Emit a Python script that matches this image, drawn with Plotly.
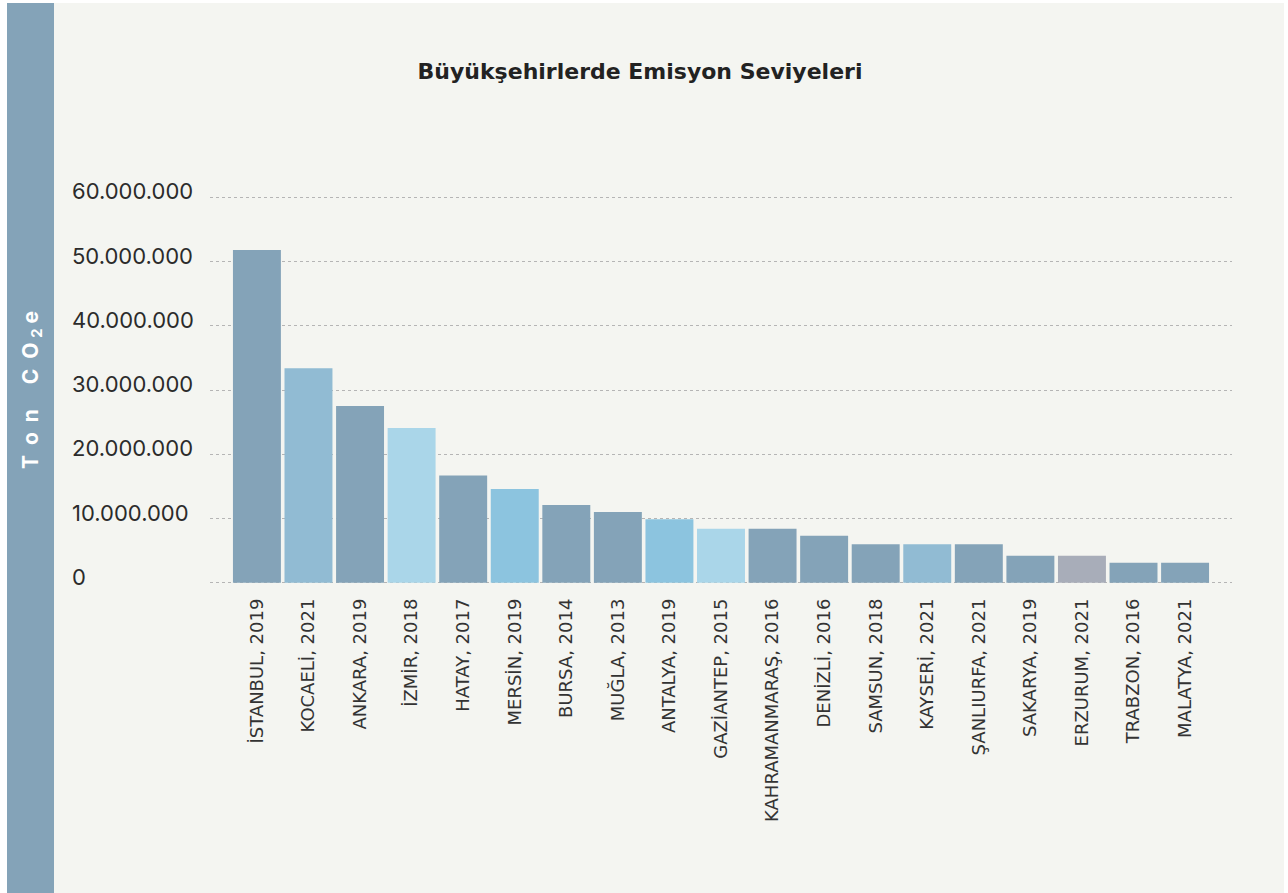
import plotly.graph_objects as go

# ---- data ----
cities = ["İSTANBUL, 2019", "KOCAELİ, 2021", "ANKARA, 2019", "İZMİR, 2018", "HATAY, 2017",
          "MERSİN, 2019", "BURSA, 2014", "MUĞLA, 2013", "ANTALYA, 2019", "GAZİANTEP, 2015",
          "KAHRAMANMARAŞ, 2016", "DENİZLİ, 2016", "SAMSUN, 2018", "KAYSERİ, 2021",
          "ŞANLIURFA, 2021", "SAKARYA, 2019", "ERZURUM, 2021", "TRABZON, 2016", "MALATYA, 2021"]
emissions = [51800000, 33400000, 27500000, 24100000, 16700000,
             14600000, 12100000, 11000000, 9900000, 8400000,
             8400000, 7300000, 6000000, 6000000,
             6000000, 4200000, 4200000, 3100000, 3100000]
tick_values = [0, 10000000, 20000000, 30000000, 40000000, 50000000, 60000000]
tick_labels = ["0", "10.000.000", "20.000.000", "30.000.000", "40.000.000", "50.000.000", "60.000.000"]

# ---- style ----
STEEL = "#84A3B8"
MID = "#91BBD3"
LIGHT = "#AAD6E9"
SKY = "#8CC4DF"
GREY = "#A8ADB9"
bar_colors = [STEEL, MID, STEEL, LIGHT, STEEL, SKY, STEEL, STEEL, SKY, LIGHT,
              STEEL, STEEL, STEEL, MID, STEEL, STEEL, GREY, STEEL, STEEL]

W, H = 1288, 893
L, R, T, B = 210, 56, 191, 309
PW, PH = W - L - R, H - T - B


def px_x(px):
    return (px - L) / PW


def px_y(py):
    return (H - B - py) / PH


fig = go.Figure(go.Bar(
    x=list(range(len(cities))),
    y=emissions,
    marker=dict(color=bar_colors, line=dict(width=0)),
    width=0.93,
    hoverinfo="skip",
))

shapes = [
    dict(type="rect", xref="paper", yref="paper", layer="below",
         x0=px_x(7), x1=px_x(1284), y0=px_y(893), y1=px_y(3),
         fillcolor="#F4F5F1", line=dict(width=0)),
    dict(type="rect", xref="paper", yref="paper", layer="below",
         x0=px_x(7), x1=px_x(54), y0=px_y(893), y1=px_y(3),
         fillcolor=STEEL, line=dict(width=0)),
]

annotations = [
    dict(xref="paper", yref="y", x=px_x(70), y=v, text=t, showarrow=False,
         xanchor="left", yanchor="middle", yshift=6,
         font=dict(family="Inter, sans-serif", size=22, color="#2b2b2b"))
    for v, t in zip(tick_values, tick_labels)
]
nb = "\u00a0"
sp = nb * 2
side_text = "T" + sp + "o" + sp + "n" + nb * 5 + "C" + sp + "O" + nb + "<sub>2</sub>" + nb + "e"
annotations.append(dict(
    xref="paper", yref="paper", x=px_x(32), y=px_y(390),
    text=side_text, showarrow=False, textangle=-90,
    xanchor="center", yanchor="middle",
    font=dict(family="Inter, sans-serif", size=21, color="white", weight="bold"),
))

fig.update_layout(
    width=W, height=H,
    margin=dict(l=L, r=R, t=T, b=B, autoexpand=False),
    paper_bgcolor="white",
    plot_bgcolor="rgba(0,0,0,0)",
    showlegend=False,
    title=dict(text="<b>Büyükşehirlerde Emisyon Seviyeleri</b>",
               x=640 / W, xref="container", xanchor="center",
               y=1 - 71 / H, yref="container", yanchor="middle",
               font=dict(family="DejaVu Sans, sans-serif", size=22, color="#222222")),
    shapes=shapes,
    annotations=annotations,
    xaxis=dict(
        range=[-0.91, len(cities) - 1 + 0.91],
        tickmode="array", tickvals=list(range(len(cities))), ticktext=cities,
        tickangle=-90, showgrid=False, zeroline=False, showline=False, ticks="",
        tickfont=dict(family="DejaVu Sans, sans-serif", size=18, color="#333333"),
        ticklabelstandoff=10,
    ),
    yaxis=dict(
        range=[-200000, 61000000],
        tickmode="array", tickvals=tick_values, showticklabels=False,
        showgrid=True, gridcolor="#B5B5B5", griddash="dot", gridwidth=1,
        zeroline=False, showline=False, ticks="",
    ),
)

fig.write_html("out.html")
